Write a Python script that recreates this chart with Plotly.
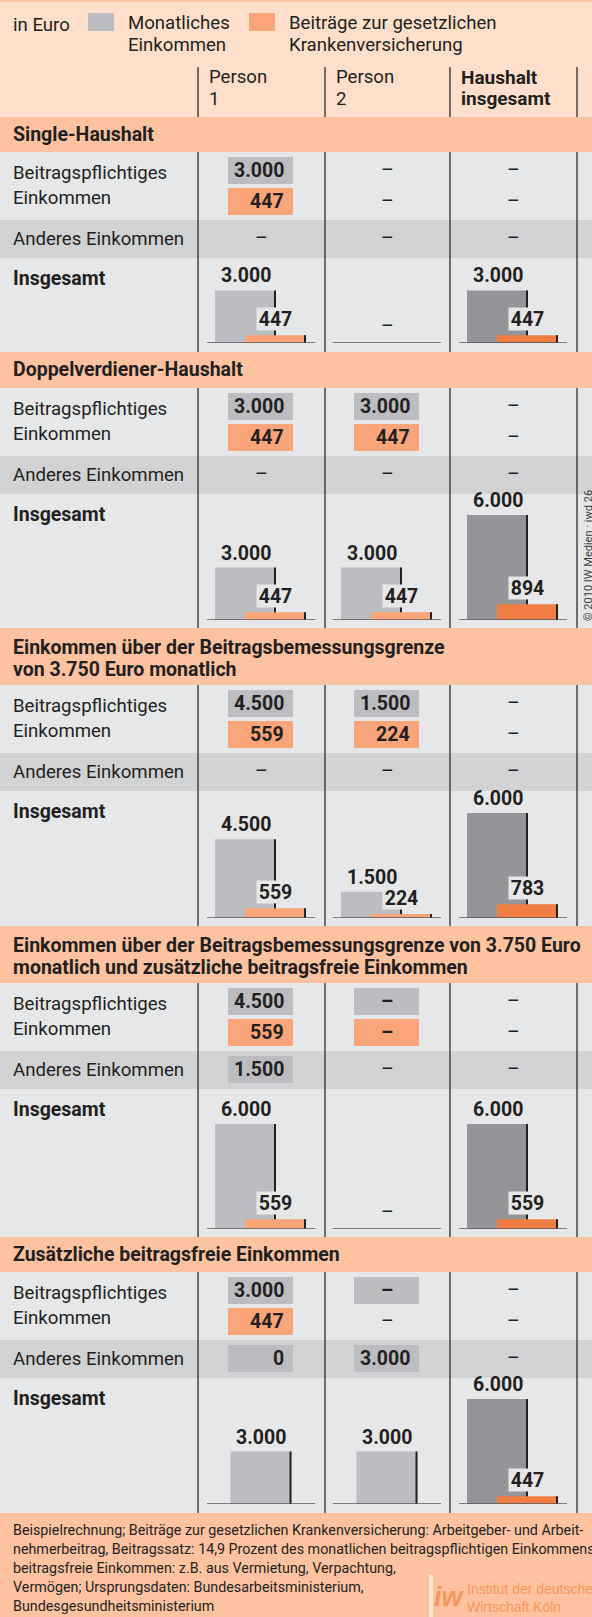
import plotly.graph_objects as go

W, H = 592, 1617

# ---------------- data ----------------
categories = ['Person 1', 'Person 2', 'Haushalt insgesamt']
col_headers = [['Person', '1'], ['Person', '2'], ['Haushalt', 'insgesamt']]
section_titles = [
    ['Single-Haushalt'],
    ['Doppelverdiener-Haushalt'],
    ['Einkommen über der Beitragsbemessungsgrenze', 'von 3.750 Euro monatlich'],
    ['Einkommen über der Beitragsbemessungsgrenze von 3.750 Euro',
     'monatlich und zusätzliche beitragsfreie Einkommen'],
    ['Zusätzliche beitragsfreie Einkommen'],
]
DASH = '–'
# None -> plain dash, DASH -> dash inside a coloured box
income_liable = [[3000, None, None], [3000, 3000, None], [4500, 1500, None],
                 [4500, DASH, None], [3000, DASH, None]]
contribution = [[447, None, None], [447, 447, None], [559, 224, None],
                [559, DASH, None], [447, None, None]]
other_income = [[None, None, None], [None, None, None], [None, None, None],
                [1500, None, None], [0, 3000, None]]
total_income = [[3000, None, 3000], [3000, 3000, 6000], [4500, 1500, 6000],
                [6000, None, 6000], [3000, 3000, 6000]]
total_contrib = [[447, None, 447], [447, 447, 894], [559, 224, 783],
                 [559, None, 559], [None, None, 447]]

legend_unit = 'in Euro'
legend_income = ['Monatliches', 'Einkommen']
legend_contrib = ['Beiträge zur gesetzlichen', 'Krankenversicherung']
row_label_liable = ['Beitragspflichtiges', 'Einkommen']
row_label_other = 'Anderes Einkommen'
row_label_total = 'Insgesamt'
footer_lines = [
    'Beispielrechnung; Beiträge zur gesetzlichen Krankenversicherung: Arbeitgeber- und Arbeit-',
    'nehmerbeitrag, Beitragssatz: 14,9 Prozent des monatlichen beitragspflichtigen Einkommens;',
    'beitragsfreie Einkommen: z.B. aus Vermietung, Verpachtung,',
    'Vermögen; Ursprungsdaten: Bundesarbeitsministerium,',
    'Bundesgesundheitsministerium',
]
logo_lines = ['Institut der deutschen', 'Wirtschaft Köln']
copyright_text = '© 2010 IW Medien · iwd 26'

# ---------------- style / layout constants ----------------
FONT = 'Roboto, "Open Sans", sans-serif'
FS = 18.6        # regular labels
FSB = 19.5       # bold values / titles
C_HEADER = '#FDDFCB'
C_BAND = '#FDC3A0'
C_BODY = '#E6E7E8'
C_OTHER = '#D1D2D4'
C_GRAY = '#BCBDC0'
C_ORANGE = '#F9A579'
C_DGRAY = '#939598'
C_DORANGE = '#F07D43'
C_TEXT = '#231F20'
C_LINE = '#2B2B2B'
C_LOGO = '#F7955C'

band_top = [117, 352, 628, 926, 1237]
band_h = [35, 36, 57, 57, 35]
body_h = [200, 240, 241, 254, 241]
base_off = [191, 232, 233, 246, 232]
FOOTER_TOP = 1513
dividers_x = [198, 325, 450, 577]

U = 126.0           # px per category unit
C0 = 261.5          # px centre of first column
PX = 0.0175         # px per euro
CH = 130            # px height of each chart subplot
BW = 61 / U         # bar width
EW = 2 / U          # edge line width
GOFF_PAIR = -46.5 / U
GOFF_SOLO = -31 / U
OOFF = -16.5 / U


def fmt(v):
    return f'{v:,}'.replace(',', '.')


def py(y):
    return 1 - y / H


shapes = []
ann = []


def rect(x0, y0, x1, y1, color, layer='below'):
    shapes.append(dict(type='rect', xref='paper', yref='paper', x0=x0 / W, x1=x1 / W,
                       y0=py(y1), y1=py(y0), fillcolor=color, line=dict(width=0), layer=layer))


def vline(x, y0, y1):
    shapes.append(dict(type='line', xref='paper', yref='paper', x0=x / W, x1=x / W,
                       y0=py(y1), y1=py(y0), line=dict(color=C_LINE, width=1.3), layer='above'))


def text(x, y, s, size=FS, bold=False, anchor='left', color=C_TEXT, family=FONT, **kw):
    ann.append(dict(x=x / W, y=py(y), xref='paper', yref='paper',
                    text=f'<b>{s}</b>' if bold else s, showarrow=False,
                    xanchor=anchor, yanchor='middle',
                    font=dict(family=family, size=size, color=color), **kw))


# header
rect(0, 0, W, 117, C_HEADER)
rect(0, 0, W, 1.5, C_BAND)
text(11, 25, legend_unit)
rect(88, 13, 114, 31, C_GRAY)
text(126, 23, legend_income[0])
text(126, 45, legend_income[1])
rect(249, 13, 275, 31, C_ORANGE)
text(287, 23, legend_contrib[0])
text(287, 45, legend_contrib[1])
for i, (l1, l2) in enumerate(col_headers):
    bold = i == 2
    sz = 19 if bold else FS
    text(dividers_x[i] + 9, 77, l1, bold=bold, size=sz)
    text(dividers_x[i] + 9, 99, l2, bold=bold, size=sz)
for x in dividers_x:
    vline(x, 67, 117)

fig = go.Figure()
layout_axes = {}

for k in range(5):
    T = band_top[k]
    B = T + band_h[k]
    base = B + base_off[k]
    rect(0, T, W, B, C_BAND)
    rect(0, B + 68, W, B + 106, C_OTHER)
    for j, line in enumerate(section_titles[k]):
        yy = T + 17.5 if len(section_titles[k]) == 1 else T + 19 + 22 * j
        text(11, yy, line, bold=True, size=FSB)
    text(11, B + 21, row_label_liable[0])
    text(11, B + 46, row_label_liable[1])
    text(11, B + 87, row_label_other)
    text(11, B + 126, row_label_total, bold=True, size=FSB)
    for x in dividers_x:
        vline(x, B, B + body_h[k])

    # table cells
    rows = [(income_liable[k], B + 5, B + 32, C_GRAY),
            (contribution[k], B + 36, B + 63, C_ORANGE),
            (other_income[k], B + 73, B + 100, C_GRAY)]
    for vals, y0, y1, col in rows:
        for i, v in enumerate(vals):
            yc = (y0 + y1) / 2
            if v is None:
                ann.append(dict(x=i, xref='x', y=py(yc), yref='paper', text=DASH, showarrow=False,
                                xanchor='center', yanchor='middle',
                                font=dict(family=FONT, size=FSB, color=C_TEXT)))
                continue
            shapes.append(dict(type='rect', xref='x', yref='paper', x0=i - 33.5 / U, x1=i + 31.5 / U,
                               y0=py(y1), y1=py(y0), fillcolor=col, line=dict(width=0), layer='above'))
            if v == DASH:
                ann.append(dict(x=i - 1 / U, xref='x', y=py(yc), yref='paper', text=f'<b>{DASH}</b>',
                                showarrow=False, xanchor='center', yanchor='middle',
                                font=dict(family=FONT, size=FSB, color=C_TEXT)))
            else:
                ann.append(dict(x=i + 24 / U, xref='x', y=py(yc), yref='paper', text=f'<b>{fmt(v)}</b>',
                                showarrow=False, xanchor='right', yanchor='middle',
                                font=dict(family=FONT, size=FSB, color=C_TEXT)))

    # chart
    yid = 'y' if k == 0 else f'y{k + 1}'
    ykey = 'yaxis' if k == 0 else f'yaxis{k + 1}'
    layout_axes[ykey] = dict(domain=[(H - base) / H, (H - base + CH) / H], range=[0, CH / PX],
                             visible=False, fixedrange=True, anchor='x')
    gcol = [C_GRAY, C_GRAY, C_DGRAY]
    ocol = [C_ORANGE, C_ORANGE, C_DORANGE]
    goff = [GOFF_PAIR if total_contrib[k][i] is not None else GOFF_SOLO for i in range(3)]
    fig.add_trace(go.Bar(x=categories, y=total_income[k], xaxis='x', yaxis=yid,
                         marker=dict(color=gcol, line=dict(width=0)), offset=goff, width=[BW] * 3,
                         hoverinfo='skip', showlegend=False))
    fig.add_trace(go.Bar(x=categories, y=total_income[k], xaxis='x', yaxis=yid,
                         marker=dict(color=C_TEXT, line=dict(width=0)),
                         offset=[o + BW - EW for o in goff], width=[EW] * 3,
                         hoverinfo='skip', showlegend=False))
    fig.add_trace(go.Bar(x=categories, y=total_contrib[k], xaxis='x', yaxis=yid,
                         marker=dict(color=ocol, line=dict(width=0)), offset=[OOFF] * 3, width=[BW] * 3,
                         hoverinfo='skip', showlegend=False))
    fig.add_trace(go.Bar(x=categories, y=total_contrib[k], xaxis='x', yaxis=yid,
                         marker=dict(color=C_TEXT, line=dict(width=0)),
                         offset=[OOFF + BW - EW] * 3, width=[EW] * 3,
                         hoverinfo='skip', showlegend=False))
    for i in range(3):
        shapes.append(dict(type='line', xref='x', yref=yid, x0=i - 54.5 / U, x1=i + 53.5 / U,
                           y0=0, y1=0, line=dict(color='#58585A', width=1.5), layer='above'))
        v = total_income[k][i]
        if v is None:
            ann.append(dict(x=i, xref='x', y=0, yref=yid, text=DASH, showarrow=False,
                            xanchor='center', yanchor='bottom', yshift=3,
                            font=dict(family=FONT, size=FSB, color=C_TEXT)))
        else:
            ann.append(dict(x=i + goff[i] + BW / 2, xref='x', y=v, yref=yid, text=f'<b>{fmt(v)}</b>',
                            showarrow=False, xanchor='center', yanchor='bottom', yshift=1,
                            font=dict(family=FONT, size=FSB, color=C_TEXT)))
        c = total_contrib[k][i]
        if c is not None:
            ann.append(dict(x=i + OOFF + BW / 2, xref='x', y=c, yref=yid, text=f'<b>{fmt(c)}</b>',
                            showarrow=False, xanchor='center', yanchor='bottom', yshift=4,
                            bgcolor=C_BODY, borderpad=2, width=33, height=18,
                            font=dict(family=FONT, size=FSB, color=C_TEXT)))

# footer
rect(0, FOOTER_TOP, W, H, C_BAND)
for j, line in enumerate(footer_lines):
    text(11, 1530 + 19 * j, line, size=14.3)
rect(429, 1575, 433, H, '#FEE6D6')
text(432, 1597, '<b><i>iw</i></b>', size=27, color=C_LOGO, family='"Liberation Sans", Arial, sans-serif')
text(465, 1589, logo_lines[0], size=14, color=C_LOGO, family='"Liberation Sans", Arial, sans-serif')
text(465, 1607, logo_lines[1], size=14, color=C_LOGO, family='"Liberation Sans", Arial, sans-serif')

# copyright (vertical)
ann.append(dict(x=588 / W, y=py(556), xref='paper', yref='paper', text=copyright_text,
                showarrow=False, textangle=-90, xanchor='center', yanchor='middle',
                font=dict(family=FONT, size=11, color='#3A3A3A')))

fig.update_layout(
    width=W, height=H, margin=dict(l=0, r=0, t=0, b=0, pad=0),
    paper_bgcolor=C_BODY, plot_bgcolor='rgba(0,0,0,0)',
    barmode='overlay', showlegend=False,
    xaxis=dict(type='category', categoryorder='array', categoryarray=categories,
               range=[-C0 / U, (W - C0) / U], domain=[0, 1], visible=False, fixedrange=True),
    shapes=shapes, annotations=ann,
    **layout_axes,
)
fig.write_html('out.html')
